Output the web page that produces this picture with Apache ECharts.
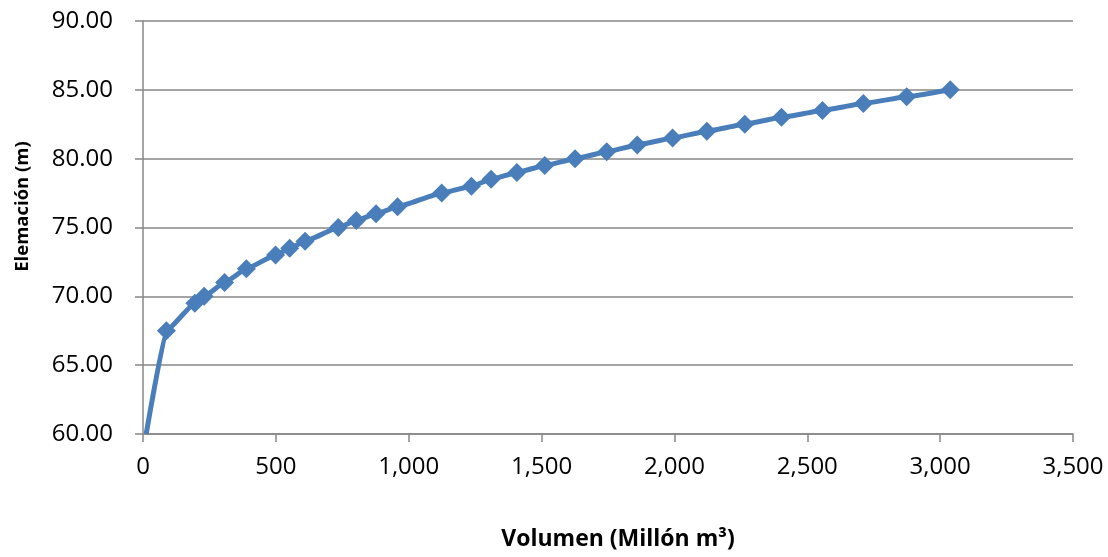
<!DOCTYPE html>
<html lang="es">

<head>
    <meta charset="UTF-8">
    <title>Curva elevación - volumen</title>
    <style>
        * {
            padding: 0;
            margin: 0;
        }
    </style>
    <script type="text/javascript" src="https://cdn.jsdelivr.net/npm/echarts@6/dist/echarts.min.js"></script>
</head>

<body>
    <div id="main" style="width: 1108px;height:557px;"></div>
    <script type="text/javascript">
        // volumen (millón m3) y elevación (m)
        var volumen = [12, 88, 195, 230, 307, 389, 499, 552, 610, 735, 803, 877, 958,
            1124, 1236, 1310, 1407, 1512, 1626, 1745, 1860, 1993, 2122, 2265, 2403,
            2557, 2711, 2874, 3038];
        var elevacion = [60, 67.5, 69.5, 70, 71, 72, 73, 73.5, 74, 75, 75.5, 76, 76.5,
            77.5, 78, 78.5, 79, 79.5, 80, 80.5, 81, 81.5, 82, 82.5, 83,
            83.5, 84, 84.5, 85];

        var myChart = echarts.init(document.getElementById('main'));

        var gris = "#878787";
        var fuente = "'Open Sans', 'Liberation Sans', sans-serif";

        // el primer punto queda sobre el eje, sin marcador
        var datos = volumen.map(function (v, i) {
            if (i === 0) {
                return { value: [v, elevacion[i]], symbol: "none" };
            }
            return [v, elevacion[i]];
        });

        var option = {
            animation: false,
            textStyle: {
                fontFamily: fuente,
                color: "#000"
            },
            grid: {
                left: 143,
                right: 35,
                top: 21,
                bottom: 123,
                outerBoundsMode: "none"
            },
            xAxis: {
                type: "value",
                min: 0,
                max: 3500,
                interval: 500,
                name: "Volumen (Millón m³)",
                nameLocation: "middle",
                nameGap: 94,
                nameTextStyle: {
                    fontSize: 23,
                    fontWeight: "bold",
                    color: "#000",
                    padding: [0, 0, 0, 20]
                },
                axisLine: {
                    lineStyle: { color: gris, width: 1.5 }
                },
                axisTick: {
                    show: true,
                    length: 8,
                    lineStyle: { color: gris, width: 1.5 }
                },
                axisLabel: {
                    fontSize: 24,
                    color: "#000",
                    margin: 21,
                    formatter: function (v) {
                        return v.toLocaleString("en-US");
                    }
                },
                splitLine: { show: false }
            },
            yAxis: {
                type: "value",
                min: 60,
                max: 90,
                interval: 5,
                name: "Elemación (m)",
                nameLocation: "middle",
                nameGap: 111,
                nameRotate: 90,
                nameTextStyle: {
                    fontSize: 18.5,
                    fontWeight: "bold",
                    color: "#000",
                    padding: [0, 0, 0, 42]
                },
                axisLine: {
                    show: true,
                    lineStyle: { color: gris, width: 1.5 }
                },
                axisTick: {
                    show: true,
                    length: 8,
                    lineStyle: { color: gris, width: 1.5 }
                },
                axisLabel: {
                    fontSize: 24,
                    color: "#000",
                    margin: 30,
                    formatter: function (v) {
                        return v.toFixed(2);
                    }
                },
                splitLine: {
                    show: true,
                    lineStyle: { color: gris, width: 1.5 }
                }
            },
            series: [{
                type: "line",
                data: datos,
                smooth: 0.12,
                smoothMonotone: "x",
                symbol: "diamond",
                symbolSize: 19,
                color: "#4a7ebb",
                lineStyle: {
                    width: 5,
                    color: "#4a7ebb"
                },
                itemStyle: {
                    color: "#4a7ebb"
                }
            }]
        };

        myChart.setOption(option);
    </script>
</body>

</html>
